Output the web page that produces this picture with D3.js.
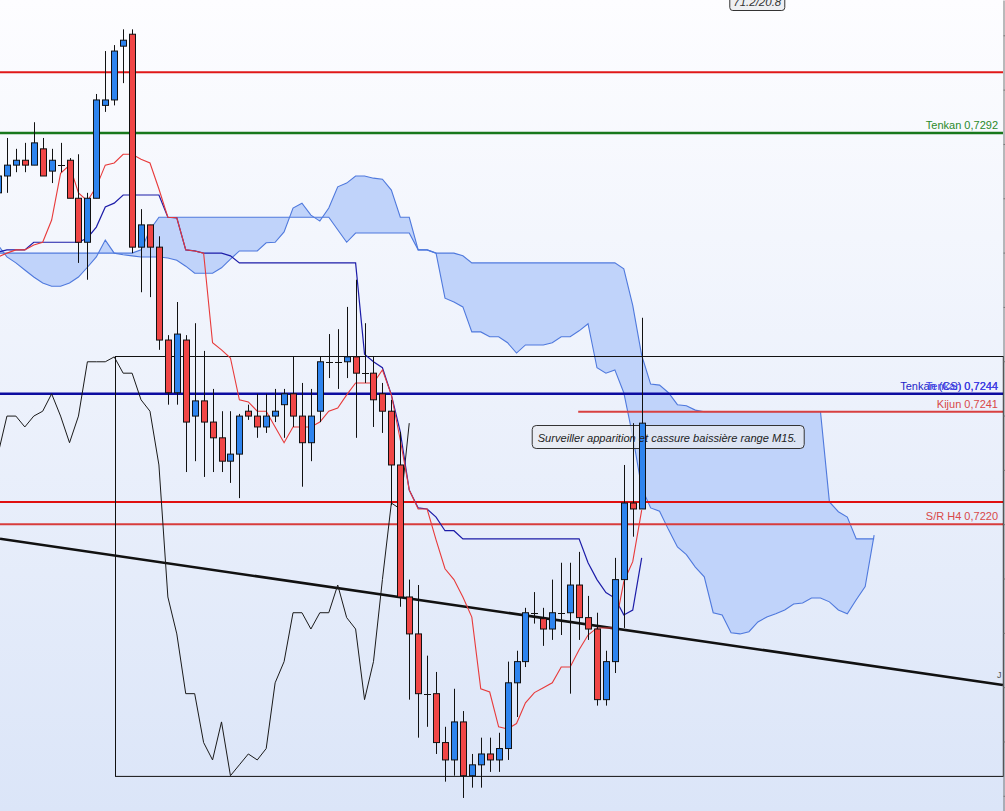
<!DOCTYPE html>
<html><head><meta charset="utf-8">
<script src="https://cdn.jsdelivr.net/npm/d3@7"></script>
<style>html,body{margin:0;padding:0;overflow:hidden;background:#fff}</style>
</head><body><svg id="c" width="1005" height="811"></svg>
<script>
// ---- Candles (index 0..72), prices ----
const opens=[0.72810,0.72841,0.72861,0.72870,0.72861,0.72891,0.72850,0.72861,0.72870,0.72800,
0.72719,0.72800,0.72971,0.72981,0.73080,0.73102,0.72710,0.72751,0.72710,0.72539,
0.72442,0.72539,0.72399,0.72427,0.72388,0.72359,0.72316,0.72329,0.72408,0.72399,
0.72379,0.72399,0.72420,0.72440,0.72399,0.72350,0.72408,0.72499,0.72499,0.72499,
0.72508,0.72478,0.72478,0.72440,0.72408,0.72309,0.72066,0.71998,0.71888,0.71888,
0.71798,0.71766,0.71836,0.71737,0.71757,0.71777,0.71766,0.71787,0.71908,0.71947,
0.72037,0.72026,0.72007,0.72037,0.72037,0.72088,0.72028,0.72007,0.71877,0.71947,
0.72098,0.72239,0.72228];
const highs=[0.72852,0.72911,0.72891,0.72902,0.72940,0.72911,0.72891,0.72902,0.72874,0.72881,
0.72810,0.72992,0.73071,0.73082,0.73111,0.73111,0.72780,0.72751,0.72730,0.72548,
0.72609,0.72548,0.72570,0.72519,0.72449,0.72408,0.72408,0.72403,0.72420,0.72440,
0.72440,0.72449,0.72449,0.72508,0.72460,0.72449,0.72508,0.72550,0.72559,0.72600,
0.72650,0.72570,0.72508,0.72460,0.72429,0.72370,0.72098,0.72088,0.71958,0.71928,
0.71827,0.71897,0.71856,0.71777,0.71807,0.71807,0.71816,0.71947,0.71967,0.72046,
0.72075,0.72046,0.72098,0.72129,0.72129,0.72149,0.72068,0.72037,0.71967,0.72138,
0.72309,0.72386,0.72580];
const lows=[0.72800,0.72810,0.72848,0.72848,0.72861,0.72841,0.72828,0.72848,0.72800,0.72681,
0.72650,0.72800,0.72959,0.72971,0.73012,0.72699,0.72627,0.72618,0.72521,0.72420,
0.72420,0.72296,0.72316,0.72287,0.72296,0.72296,0.72276,0.72248,0.72392,0.72359,
0.72368,0.72388,0.72359,0.72379,0.72269,0.72316,0.72388,0.72469,0.72449,0.72469,
0.72359,0.72460,0.72379,0.72368,0.72235,0.72048,0.71877,0.71807,0.71827,0.71777,
0.71726,0.71737,0.71696,0.71715,0.71715,0.71744,0.71744,0.71766,0.71845,0.71937,
0.72017,0.71976,0.71987,0.71996,0.71888,0.71987,0.71987,0.71866,0.71866,0.71926,
0.72009,0.72177,0.72228];
const closes=[0.72841,0.72861,0.72870,0.72861,0.72902,0.72841,0.72870,0.72861,0.72800,0.72719,
0.72800,0.72981,0.72981,0.73071,0.73091,0.72710,0.72751,0.72710,0.72539,0.72442,
0.72550,0.72388,0.72427,0.72388,0.72359,0.72316,0.72329,0.72399,0.72399,0.72379,
0.72399,0.72408,0.72440,0.72399,0.72350,0.72399,0.72499,0.72499,0.72499,0.72508,
0.72478,0.72478,0.72429,0.72408,0.72309,0.72066,0.71998,0.71888,0.71888,0.71798,
0.71766,0.71836,0.71737,0.71757,0.71777,0.71766,0.71787,0.71908,0.71947,0.72037,
0.72037,0.72007,0.72037,0.72037,0.72088,0.72028,0.72007,0.71877,0.71947,0.72098,
0.72239,0.72228,0.72386];

// ---- Ichimoku lines ----
const tenkan=[0.72692,0.72699,0.72705,0.72705,0.72714,0.72719,0.72760,0.72846,0.72861,0.72810,
0.72795,0.72821,0.72861,0.72865,0.72881,0.72881,0.72872,0.72865,0.72817,0.72765,
0.72764,0.72705,0.72703,0.72699,0.72534,0.72521,0.72506,0.72429,0.72425,0.72408,
0.72408,0.72379,0.72350,0.72379,0.72379,0.72379,0.72388,0.72408,0.72414,0.72438,
0.72460,0.72460,0.72460,0.72484,0.72438,0.72355,0.72263,0.72228,0.72228,0.72171,
0.72118,0.72098,0.72066,0.72029,0.71897,0.71891,0.71827,0.71823,0.71833,0.71871,
0.71890,0.71899,0.71908,0.71937,0.71937,0.71969,0.71996,0.72009,0.72009,0.72009,
0.72094,0.72131,0.72226];
const kijun=[0.72701,0.72705,0.72705,0.72705,0.72719,0.72719,0.72719,0.72719,0.72719,0.72719,
0.72727,0.72747,0.72784,0.72791,0.72806,0.72806,0.72806,0.72806,0.72806,0.72765,
0.72764,0.72705,0.72703,0.72699,0.72699,0.72699,0.72694,0.72681,0.72681,0.72681,
0.72681,0.72681,0.72681,0.72681,0.72681,0.72681,0.72681,0.72681,0.72681,0.72681,
0.72681,0.72513,0.72499,0.72488,0.72438,0.72370,0.72263,0.72230,0.72228,0.72213,
0.72188,0.72188,0.72173,0.72173,0.72173,0.72173,0.72173,0.72173,0.72173,0.72173,
0.72173,0.72173,0.72173,0.72173,0.72173,0.72173,0.72129,0.72098,0.72074,0.72064,
0.72033,0.72042,0.72138];
const spanA=[0.72714,0.72692,0.72681,0.72668,0.72655,0.72644,0.72638,0.72638,0.72644,0.72655,
0.72673,0.72692,0.72723,0.72699,0.72696,0.72694,0.72692,0.72692,0.72692,0.72690,
0.72686,0.72675,0.72662,0.72662,0.72662,0.72672,0.72688,0.72703,0.72703,0.72703,
0.72718,0.72719,0.72738,0.72782,0.72791,0.72769,0.72758,0.72782,0.72821,0.72828,
0.72841,0.72841,0.72837,0.72835,0.72815,0.72765,0.72765,0.72705,0.72705,0.72699,
0.72616,0.72609,0.72600,0.72554,0.72554,0.72545,0.72545,0.72534,0.72515,0.72530,
0.72530,0.72530,0.72534,0.72545,0.72545,0.72556,0.72569,0.72488,0.72478,0.72484,
0.72442,0.72362,0.72267,0.72230,0.72224,0.72190,0.72158,0.72144,0.72121,0.72103,
0.72037,0.72033,0.72000,0.71998,0.72002,0.72020,0.72029,0.72035,0.72042,0.72053,
0.72055,0.72064,0.72064,0.72057,0.72042,0.72035,0.72061,0.72085,0.72180];
const spanB=[0.72699,0.72699,0.72699,0.72699,0.72699,0.72699,0.72699,0.72699,0.72699,0.72699,
0.72699,0.72699,0.72699,0.72699,0.72699,0.72699,0.72705,0.72742,0.72765,0.72765,
0.72765,0.72765,0.72765,0.72765,0.72765,0.72765,0.72765,0.72765,0.72765,0.72765,
0.72765,0.72765,0.72765,0.72765,0.72765,0.72765,0.72765,0.72765,0.72742,0.72719,
0.72736,0.72736,0.72736,0.72736,0.72736,0.72736,0.72736,0.72705,0.72705,0.72699,
0.72699,0.72699,0.72694,0.72681,0.72681,0.72681,0.72681,0.72681,0.72681,0.72681,
0.72681,0.72681,0.72681,0.72681,0.72681,0.72681,0.72681,0.72681,0.72681,0.72681,
0.72670,0.72603,0.72511,0.72458,0.72456,0.72442,0.72420,0.72418,0.72410,0.72407,
0.72407,0.72407,0.72407,0.72407,0.72407,0.72407,0.72407,0.72407,0.72407,0.72407,
0.72407,0.72407,0.72407,0.72241,0.72223,0.72213,0.72173,0.72173,0.72173];
const chikouShift=26;

// ---- Drawn objects ----
const hLevels=[0.73032,0.72920,0.72440,0.72407,0.72241,0.72200];
const hStarts=[0,0,0,64.9,0,0];
const levelLabels=[["Tenkan 0,7292",1],["Tenkan (CS) 0,7244",2],["Tenkan 0,7244",2],["Kijun 0,7241",3],["S/R H4 0,7220",5]];
const trendPts=[[0.224,0.72173],[112.4,0.71904]];
const rangeBox={i0:13.09,i1:112.4,top:0.72510,bottom:0.71737};
const note={i:59.7,p:0.72383,text:"Surveiller apparition et cassure baissière range M15."};
const topTag={i:81.8,text:"71.2/20.8"};
const markJ={i:112.0,p:0.71917,text:"J"};
const axisTicks=d3.range(0.7170,0.7316,0.001);

const W=1005,H=811;
const svg=d3.select("#c");
const defs=svg.append("defs");
const gr=defs.append("linearGradient").attr("id","bg").attr("x1",0).attr("y1",0).attr("x2",0).attr("y2",1);
gr.append("stop").attr("offset","0").attr("stop-color","#fdfdff");
gr.append("stop").attr("offset","1").attr("stop-color","#dbe5f8");
svg.append("rect").attr("width",W).attr("height",H).attr("fill","url(#bg)");

const x=d3.scaleLinear().domain([0,98]).range([-2,874.12]);
const y=d3.scaleLinear().domain([0.73165,0.71672]).range([0,811]);
const font="'Liberation Sans',Arial,sans-serif";

// cloud
const ci=d3.range(spanA.length);
svg.append("path").datum(ci).attr("d",d3.area().x(i=>x(i)).y0(i=>y(spanB[i])).y1(i=>y(spanA[i])))
  .attr("fill","#c0d3fa");
[spanA,spanB].forEach(s=>{
  svg.append("path").datum(ci).attr("d",d3.line().x(i=>x(i)).y(i=>y(s[i])))
    .attr("fill","none").attr("stroke","#4f79dd").attr("stroke-width",1.1);
});

// annotation box (under lines & candles)
const nx=x(note.i), ny=y(note.p);
svg.append("rect").attr("x",nx+0.5).attr("y",Math.round(ny)+0.5).attr("width",272).attr("height",23).attr("rx",4)
  .attr("fill","#e8eaf0").attr("fill-opacity",0.72).attr("stroke","#333").attr("stroke-width",1);

// horizontal levels
const hStyles=[["#e01818",2],["#18781c",2.5],["#0c0ca0",2.5],["#d84040",2],["#e01010",2],["#d83c3c",2]];
hLevels.forEach((p,k)=>{
  svg.append("line").attr("x1",Math.max(0,x(hStarts[k]))).attr("x2",1003)
    .attr("y1",y(p)).attr("y2",y(p)).attr("stroke",hStyles[k][0]).attr("stroke-width",hStyles[k][1]);
});

// range box
svg.append("rect").attr("x",Math.round(x(rangeBox.i0))+0.5).attr("y",Math.round(y(rangeBox.top))+0.5)
  .attr("width",x(rangeBox.i1)-x(rangeBox.i0)).attr("height",y(rangeBox.bottom)-y(rangeBox.top))
  .attr("fill","none").attr("stroke","#111").attr("stroke-width",1);

// trendline
svg.append("line").attr("x1",x(trendPts[0][0])).attr("y1",y(trendPts[0][1]))
  .attr("x2",x(trendPts[1][0])).attr("y2",y(trendPts[1][1])).attr("stroke","#111").attr("stroke-width",2.5);

// chikou
svg.append("path").datum(d3.range(closes.length)).attr("d",d3.line().x(i=>x(i-chikouShift)).y(i=>y(closes[i])))
  .attr("fill","none").attr("stroke","#1a1a1a").attr("stroke-width",1);
// kijun, tenkan
svg.append("path").datum(d3.range(kijun.length)).attr("d",d3.line().x(i=>x(i)).y(i=>y(kijun[i])))
  .attr("fill","none").attr("stroke","#1c1ca8").attr("stroke-width",1.2);
svg.append("path").datum(d3.range(tenkan.length)).attr("d",d3.line().x(i=>x(i)).y(i=>y(tenkan[i])))
  .attr("fill","none").attr("stroke","#e83a3a").attr("stroke-width",1.1);

// candles
const cg=svg.append("g");
d3.range(opens.length).forEach(i=>{
  const cx=Math.round(x(i))+0.5;
  cg.append("line").attr("x1",cx).attr("x2",cx).attr("y1",y(highs[i])).attr("y2",y(lows[i]))
    .attr("stroke","#111").attr("stroke-width",1);
  const o=opens[i],c=closes[i];
  if(o===c){
    cg.append("line").attr("x1",cx-3.5).attr("x2",cx+3.5).attr("y1",Math.round(y(o))+0.5).attr("y2",Math.round(y(o))+0.5)
      .attr("stroke","#111").attr("stroke-width",1);
  } else {
    const t=y(Math.max(o,c)), b=y(Math.min(o,c));
    cg.append("rect").attr("x",cx-3).attr("y",t).attr("width",6).attr("height",Math.max(1,b-t))
      .attr("fill",c>o?"#2e84ee":"#f04646").attr("stroke","#111").attr("stroke-width",1);
  }
});

// axis at right edge
const ax=svg.append("g").attr("transform","translate(1003.5,0)")
  .call(d3.axisRight(y).tickValues(axisTicks).tickSize(3).tickSizeOuter(0).tickFormat(""));
ax.selectAll("path,line").attr("stroke","#777");

// level labels
const lblColors=["#2a8a2a","#1e1ec8","#4040e8","#d84848","#d84848"];
levelLabels.forEach((l,k)=>{
  svg.append("text").attr("x",998).attr("y",y(hLevels[l[1]])-4).attr("text-anchor","end")
    .attr("font-family",font).attr("font-size",11).attr("fill",lblColors[k]).text(l[0]);
});

// note text
svg.append("text").attr("x",nx+6).attr("y",Math.round(ny)+16.5).attr("font-family",font).attr("font-style","italic")
  .attr("font-size",11.5).attr("fill","#222").attr("textLength",259).attr("lengthAdjust","spacingAndGlyphs").text(note.text);

// top tag
const tx=x(topTag.i);
svg.append("rect").attr("x",tx+0.5).attr("y",-6.5).attr("width",55).attr("height",17).attr("rx",3)
  .attr("fill","#eeeff2").attr("stroke","#333");
svg.append("text").attr("x",tx+28).attr("y",6).attr("text-anchor","middle").attr("font-family",font)
  .attr("font-style","italic").attr("font-size",11.5).attr("fill","#333").text(topTag.text);

// J mark
svg.append("text").attr("x",x(markJ.i)).attr("y",y(markJ.p)).attr("text-anchor","middle").attr("font-family",font)
  .attr("font-size",9).attr("fill","#555").text(markJ.text);
</script></body></html>
